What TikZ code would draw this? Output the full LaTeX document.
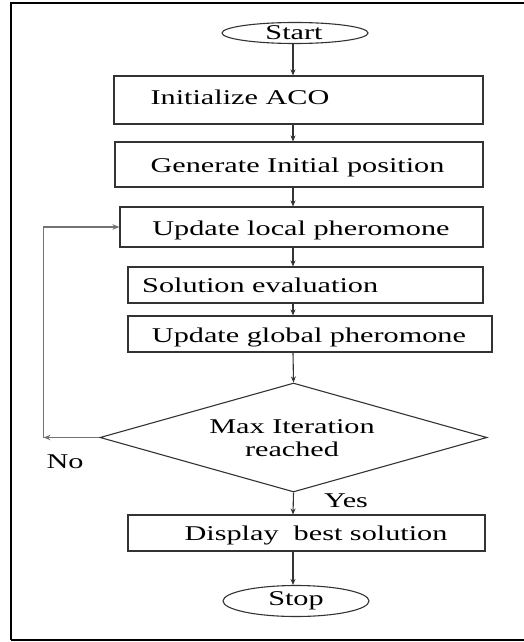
\documentclass[tikz,border=0pt]{standalone}
\usepackage{fontspec}
\setmainfont[FakeStretch=1.44]{Liberation Serif}
\usetikzlibrary{arrows.meta,shapes.geometric}
\begin{document}
\begin{tikzpicture}[x=1pt,y=-1pt,
  box/.style={draw=black!80,line width=1.1pt,inner sep=0pt},
  term/.style={draw=black!80,line width=1.1pt,ellipse,inner sep=0pt},
  txt/.style={inner sep=0pt,anchor=base,font=\fontsize{21}{22}\selectfont},
  arr/.style={draw=black!80,line width=1.1pt,-{Stealth[length=6pt,width=5pt]}},
  loop/.style={draw=black!55,line width=1.6pt,-{Stealth[length=7pt,width=5.5pt]}}]
\useasboundingbox (0,0) rectangle (524,642);
% outer frame (right side runs off the page)
\draw[line width=2pt] (11,639.5) -- (11,3.5) -- (540,3.5);
\draw[line width=2pt] (11,639.5) -- (540,639.5);

% shapes
\node[term,minimum width=146pt,minimum height=21pt] (start) at (295,33) {};
\node[box,minimum width=369pt,minimum height=48pt] (init) at (298.5,100) {};
\node[box,minimum width=368pt,minimum height=45pt] (gen) at (299,164.5) {};
\node[box,minimum width=363pt,minimum height=40pt] (local) at (301.5,227) {};
\node[box,minimum width=355pt,minimum height=36pt] (eval) at (305.5,285) {};
\node[box,minimum width=364pt,minimum height=36pt] (global) at (310,334) {};
\node[box,diamond,minimum width=387pt,minimum height=109pt] (dec) at (293.5,437.5) {};
\node[box,minimum width=357pt,minimum height=36pt] (disp) at (306.5,533) {};
\node[term,minimum width=146pt,minimum height=31pt] (stop) at (296,601) {};

% texts
\node[txt] (tstart) at (294,40) {Start};
\node[txt] (tinit) at (240,104) {Initialize ACO};
\node[txt] (tgen) at (297.5,172) {Generate Initial position};
\node[txt] (tlocal) at (301,235) {Update local pheromone};
\node[txt,anchor=base west] (teval) at (142,292) {Solution evaluation};
\node[txt] (tglobal) at (309,342) {Update global pheromone};
\node[txt,anchor=center,align=center,font=\fontsize{21}{22.5}\selectfont] (tdec) at (292,438) {Max Iteration\\reached};
\node[txt] (tdisp) at (316,540) {Display\ \ best solution};
\node[txt] (tstop) at (296,605) {Stop};
\node[txt] (tno) at (65,468) {No};
\node[txt] (tyes) at (346,507) {Yes};

% main column of connectors
\coordinate (col) at (293,0);
\draw[arr] (start.south -| col) -- (init.north -| col);
\draw[arr] (init.south -| col) -- (gen.north -| col);
\draw[arr] (gen.south -| col) -- (local.north -| col);
\draw[arr] (local.south -| col) -- (eval.north -| col);
\draw[arr] (eval.south -| col) -- (global.north -| col);
\draw[arr] (global.south -| col) -- (dec.north);
\draw[arr] (dec.south) -- (disp.north -| col);
\draw[arr] (disp.south -| col) -- (stop.north -| col);

% "No" loop back to the local update
\coordinate (corner) at (43.5,437.5);
\draw[loop] (dec.west) -- (corner);
\draw[loop] (corner) |- (local.west);
\end{tikzpicture}
\end{document}
